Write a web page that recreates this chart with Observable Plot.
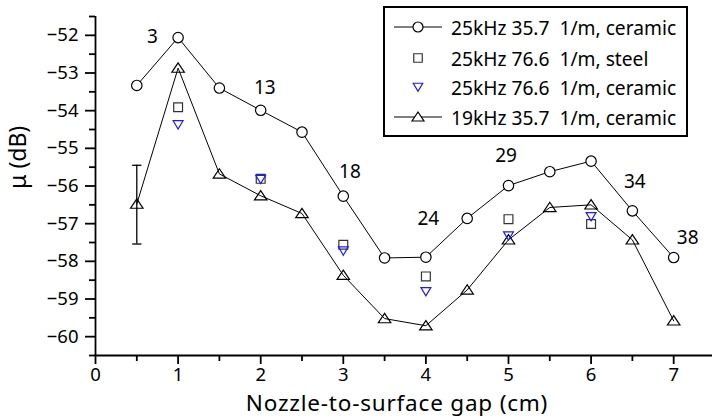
<!DOCTYPE html>
<html>
<head>
<meta charset="utf-8">
<script src="https://cdn.jsdelivr.net/npm/d3@7"></script>
<script src="https://cdn.jsdelivr.net/npm/@observablehq/plot@0.6"></script>
<style>
  body { margin: 0; background: white; }
  #wrap { position: relative; width: 712px; height: 419px; font-family: "Noto Sans", sans-serif; }
  #legend { position: absolute; left: 383px; top: 6px; width: 301px; height: 127px; border: 2px solid black; background: white; box-sizing: content-box; }
  #legend .row { position: absolute; left: 0; height: 30px; display: flex; align-items: center; font-size: 19.2px; white-space: pre; }
  #legend svg { display: block; }
  .title-x { letter-spacing: 0.8px; }
</style>
</head>
<body>
<div id="wrap"></div>
<script>
// ---- data ----
const gaps = [0.5, 1, 1.5, 2, 2.5, 3, 3.5, 4, 4.5, 5, 5.5, 6, 6.5, 7];
const mu25k357Ceramic = [-53.33, -52.06, -53.40, -53.99, -54.57, -56.27, -57.91, -57.89, -56.86, -55.99, -55.62, -55.34, -56.66, -57.90];
const mu19k357Ceramic = [-56.48, -52.87, -55.68, -56.26, -56.73, -58.37, -59.52, -59.71, -58.76, -57.43, -56.57, -56.50, -57.43, -59.58];
const gaps766 = [1, 2, 3, 4, 5, 6];
const mu25k766Steel = [-53.91, -55.81, -57.56, -58.40, -56.88, -57.01];
const mu25k766Ceramic = [-54.37, -55.82, -57.72, -58.80, -57.32, -56.81];
const errGap = [0.5];
const errLow = [-57.54];
const errHigh = [-55.45];
const annText = ["3", "13", "18", "24", "29", "34", "38"];
const annGap = [0.69, 2.05, 3.08, 4.03, 4.97, 6.53, 7.17];
const annMu = [-52.03, -53.40, -55.63, -56.87, -55.19, -55.90, -57.39];
const xTicks = [0, 1, 2, 3, 4, 5, 6, 7];
const xMinor = [0.5, 1.5, 2.5, 3.5, 4.5, 5.5, 6.5];
const yTicks = [-60, -59, -58, -57, -56, -55, -54, -53, -52];
const yMinor = [-60.5, -59.5, -58.5, -57.5, -56.5, -55.5, -54.5, -53.5, -52.5, -51.5];
const seriesNames = ["25kHz 35.7  1/m, ceramic", "25kHz 76.6  1/m, steel", "25kHz 76.6  1/m, ceramic", "19kHz 35.7  1/m, ceramic"];

// ---- tables ----
const circ = gaps.map((g, i) => ({g, m: mu25k357Ceramic[i]}));
const tri = gaps.map((g, i) => ({g, m: mu19k357Ceramic[i]}));
const steel = gaps766.map((g, i) => ({g, m: mu25k766Steel[i]}));
const cer = gaps766.map((g, i) => ({g, m: mu25k766Ceramic[i]}));
const err = errGap.map((g, i) => ({g, lo: errLow[i], hi: errHigh[i]}));
const ann = annText.map((t, i) => ({t, g: annGap[i], m: annMu[i]}));

// ---- custom symbols ----
const rad = s => Math.sqrt(s / Math.PI);
const triUp = {draw(c, s) { const r = rad(s); c.moveTo(0, -r); c.lineTo(1.2 * r, 0.8 * r); c.lineTo(-1.2 * r, 0.8 * r); c.closePath(); }};
const triDown = {draw(c, s) { const r = rad(s); c.moveTo(-0.95 * r, -0.75 * r); c.lineTo(0.95 * r, -0.75 * r); c.lineTo(0, 0.85 * r); c.closePath(); }};
const sq = {draw(c, s) { const r = rad(s) * 0.85; c.rect(-r, -r, 2 * r, 2 * r); }};
const cap = {draw(c, s) { const r = rad(s); c.moveTo(-r, 0); c.lineTo(r, 0); }};
const fmt = d => (d < 0 ? "\u2212" : "") + Math.abs(d);

const blue = "#1a1aff";

const chart = Plot.plot({
  width: 712,
  height: 419,
  marginLeft: 95,
  marginRight: 0,
  marginTop: 16,
  marginBottom: 64,
  style: {fontFamily: "Noto Sans, sans-serif", fontSize: "18px", color: "black", background: "white"},
  x: {domain: [0, 7.47]},
  y: {domain: [-60.5, -51.5]},
  marks: [
    Plot.axisY({ticks: yTicks, tickSize: 10, tickPadding: 7, tickFormat: fmt, strokeWidth: 1.8, label: null, fontSize: 18.5}),
    Plot.axisY({ticks: yMinor, tickSize: 6, tickFormat: () => "", strokeWidth: 1.8, label: null}),
    Plot.axisX({ticks: xTicks, tickSize: 9, tickPadding: 3, tickFormat: d => String(d), strokeWidth: 1.8, label: null, fontSize: 18.5}),
    Plot.axisX({ticks: xMinor, tickSize: 6, tickFormat: () => "", strokeWidth: 1.8, label: null}),
    Plot.ruleX([0], {stroke: "black", strokeWidth: 1.8}),
    Plot.ruleY([-60.5], {stroke: "black", strokeWidth: 1.8}),
    Plot.text(["Nozzle-to-surface gap (cm)"], {frameAnchor: "bottom", dy: 48, dx: -7, fontSize: 22.5, lineAnchor: "middle", className: "title-x"}),
    Plot.text(["\u03bc (dB)"], {frameAnchor: "left", dx: -77, dy: 3, rotate: -90, fontSize: 23, lineAnchor: "middle"}),
    // error bar
    Plot.ruleX(err, {x: "g", y1: "lo", y2: "hi", stroke: "black", strokeWidth: 1.3}),
    Plot.dot(err, {x: "g", y: "lo", symbol: cap, r: 4.6, stroke: "black", strokeWidth: 1.3}),
    Plot.dot(err, {x: "g", y: "hi", symbol: cap, r: 4.6, stroke: "black", strokeWidth: 1.3}),
    // lines
    Plot.line(circ, {x: "g", y: "m", stroke: "black", strokeWidth: 1}),
    Plot.line(tri, {x: "g", y: "m", stroke: "black", strokeWidth: 1}),
    // markers
    Plot.dot(circ, {x: "g", y: "m", r: 5.2, fill: "white", stroke: "black", strokeWidth: 1.2}),
    Plot.dot(tri, {x: "g", y: "m", symbol: triUp, r: 5.2, fill: "none", stroke: "black", strokeWidth: 1.2}),
    Plot.dot(steel, {x: "g", y: "m", symbol: sq, r: 5.2, fill: "none", stroke: "#333", strokeWidth: 1.2}),
    Plot.dot(cer, {x: "g", y: "m", symbol: triDown, r: 5.2, fill: "none", stroke: blue, strokeWidth: 1.2}),
    // annotations
    Plot.text(ann, {x: "g", y: "m", text: "t", fontSize: 19, textAnchor: "middle", lineAnchor: "middle", fill: "black"})
  ]
});

const wrap = document.getElementById("wrap");
wrap.appendChild(chart);

// ---- legend ----
const legend = document.createElement("div");
legend.id = "legend";
const ns = "http://www.w3.org/2000/svg";
const rowTops = [4, 35, 64, 94];
const kinds = ["circle", "square", "down", "up"];
seriesNames.forEach((name, i) => {
  const row = document.createElement("div");
  row.className = "row";
  row.style.top = rowTops[i] + "px";
  const svg = document.createElementNS(ns, "svg");
  svg.setAttribute("width", "66");
  svg.setAttribute("height", "30");
  const k = kinds[i];
  if (k === "circle" || k === "up") {
    const l = document.createElementNS(ns, "line");
    l.setAttribute("x1", 9); l.setAttribute("x2", 57); l.setAttribute("y1", 15); l.setAttribute("y2", 15);
    l.setAttribute("stroke", "black"); l.setAttribute("stroke-width", 1);
    svg.appendChild(l);
  }
  const p = document.createElementNS(ns, "path");
  const path = d3.path();
  const sym = k === "circle" ? d3.symbolCircle : k === "square" ? sq : k === "down" ? triDown : triUp;
  sym.draw(path, 25 * Math.PI);
  p.setAttribute("d", path.toString());
  p.setAttribute("transform", "translate(33,15)");
  p.setAttribute("fill", k === "circle" ? "white" : k === "up" ? "white" : "none");
  p.setAttribute("stroke", k === "down" ? blue : k === "square" ? "#333" : "black");
  p.setAttribute("stroke-width", 1.2);
  svg.appendChild(p);
  row.appendChild(svg);
  const span = document.createElement("span");
  span.textContent = name;
  row.appendChild(span);
  legend.appendChild(row);
});
wrap.appendChild(legend);
</script>
</body>
</html>
